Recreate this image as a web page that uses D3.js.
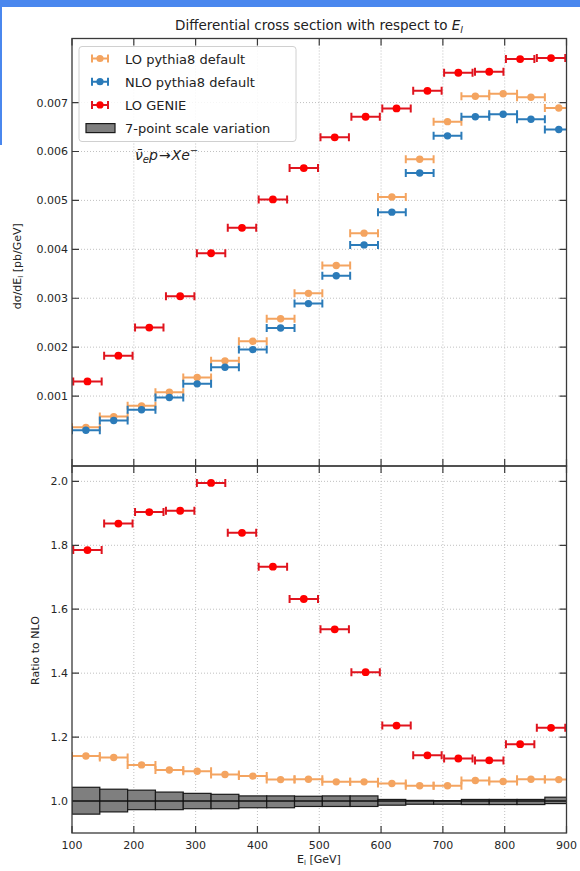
<!DOCTYPE html>
<html>
<head>
<meta charset="utf-8">
<script src="https://cdn.jsdelivr.net/npm/d3@7"></script>
<style>
    html, body { margin: 0; padding: 0; background: #fff; }
    svg { display: block; font-family: "DejaVu Sans", sans-serif; }
    .tick-label { font-size: 11px; fill: #262626; }
    .grid { stroke: #b0b0b0; stroke-width: 0.8; stroke-dasharray: 1, 2; }
    .spine { fill: none; stroke: #3a3a3a; stroke-width: 1.3; }
</style>
</head>
<body>
<svg id="chart" width="580" height="871"></svg>
<script>
// bins of the pythia8 histograms (GeV)
var pythiaEdges = [100, 145, 190, 235, 280, 325, 370, 415, 460, 505, 550, 595, 640, 685, 730, 775, 820, 865, 910];
// GENIE bin centres and x error (GeV)
var genieCenters = [125, 175, 225, 275, 325, 375, 425, 475, 525, 575, 625, 675, 725, 775, 825, 875];
var genieXerr = 23;

// dσ/dE_l [pb/GeV]
var loPythia  = [0.00036, 0.00058, 0.00080, 0.00108, 0.00138, 0.00172, 0.00212, 0.00258, 0.00310, 0.00367, 0.00433, 0.00507, 0.00584, 0.00661, 0.00713, 0.00718, 0.00711, 0.00689];
var nloPythia = [0.00030, 0.00050, 0.00072, 0.00097, 0.00125, 0.00159, 0.00195, 0.00239, 0.00289, 0.00346, 0.00409, 0.00476, 0.00556, 0.00632, 0.00671, 0.00676, 0.00666, 0.00645];
var loGenie   = [0.00130, 0.001825, 0.00240, 0.00304, 0.00392, 0.00444, 0.00502, 0.00566, 0.00629, 0.00671, 0.00688, 0.00724, 0.00761, 0.00763, 0.00789, 0.00791];

// ratios to NLO
var ratioLoPythia = [1.141, 1.136, 1.113, 1.097, 1.093, 1.083, 1.078, 1.067, 1.068, 1.060, 1.060, 1.055, 1.048, 1.048, 1.064, 1.061, 1.068, 1.067];
var ratioGenie    = [1.785, 1.868, 1.904, 1.908, 1.995, 1.839, 1.733, 1.632, 1.537, 1.403, 1.236, 1.143, 1.133, 1.127, 1.178, 1.229];
var scaleLow  = [0.959, 0.966, 0.973, 0.973, 0.976, 0.976, 0.979, 0.979, 0.983, 0.983, 0.983, 0.987, 0.990, 0.990, 0.989, 0.989, 0.989, 0.992];
var scaleHigh = [1.043, 1.037, 1.034, 1.028, 1.024, 1.021, 1.016, 1.016, 1.015, 1.016, 1.016, 1.005, 1.002, 1.001, 1.005, 1.005, 1.005, 1.012];

// ticks
var xTicks      = [100, 200, 300, 400, 500, 600, 700, 800, 900];
var topTicks    = [0.001, 0.002, 0.003, 0.004, 0.005, 0.006, 0.007];
var bottomTicks = [1.0, 1.2, 1.4, 1.6, 1.8, 2.0];

var colors = { lo: '#f4a460', nlo: '#2b7bb9', genie: '#ff0000', genieBar: '#e0141e' };

var layout = {
    left: 72, right: 566.5,
    top: { y0: 38.5, y1: 466 },
    bottom: { y0: 466, y1: 833 },
    tick: 7, cap: 4
};

var svg = d3.select('#chart');

// screenshot frame
svg.append('rect').attr('x', 0).attr('y', 0).attr('width', 580).attr('height', 7).attr('fill', '#4a87ee');
svg.append('rect').attr('x', 0).attr('y', 0).attr('width', 2).attr('height', 145).attr('fill', '#4a87ee');

var x = d3.scaleLinear().domain([100, 900]).range([layout.left, layout.right]);
var yTop = d3.scaleLinear().domain([-0.00043, 0.00831]).range([layout.top.y1, layout.top.y0]);
var yBot = d3.scaleLinear().domain([0.9, 2.048]).range([layout.bottom.y1, layout.bottom.y0]);

svg.append('defs').call(function (defs) {
    defs.append('clipPath').attr('id', 'clip-top').append('rect')
        .attr('x', layout.left).attr('y', layout.top.y0)
        .attr('width', layout.right - layout.left).attr('height', layout.top.y1 - layout.top.y0);
    defs.append('clipPath').attr('id', 'clip-bottom').append('rect')
        .attr('x', layout.left).attr('y', layout.bottom.y0)
        .attr('width', layout.right - layout.left).attr('height', layout.bottom.y1 - layout.bottom.y0);
});

function drawFrame(y, ticks, p, fmt, showX) {
    var g = svg.append('g');

    g.selectAll('.gx').data(xTicks.slice(1, -1)).enter().append('line')
        .attr('class', 'grid')
        .attr('x1', d => x(d)).attr('x2', d => x(d))
        .attr('y1', p.y0).attr('y2', p.y1)
    ;
    g.selectAll('.gy').data(ticks).enter().append('line')
        .attr('class', 'grid')
        .attr('x1', layout.left).attr('x2', layout.right)
        .attr('y1', d => y(d)).attr('y2', d => y(d))
    ;

    // inward ticks on all four sides
    g.selectAll('.tx').data(xTicks).enter().append('path')
        .attr('stroke', '#3a3a3a').attr('stroke-width', 1.2)
        .attr('d', d => `M${x(d)},${p.y1}v${-layout.tick}M${x(d)},${p.y0}v${layout.tick}`)
    ;
    g.selectAll('.ty').data(ticks).enter().append('path')
        .attr('stroke', '#3a3a3a').attr('stroke-width', 1.2)
        .attr('d', d => `M${layout.left},${y(d)}h${layout.tick}M${layout.right},${y(d)}h${-layout.tick}`)
    ;

    g.selectAll('.ly').data(ticks).enter().append('text')
        .attr('class', 'tick-label')
        .attr('text-anchor', 'end')
        .attr('x', layout.left - 4)
        .attr('y', d => y(d) + 4)
        .text(fmt)
    ;

    if (showX) {
        g.selectAll('.lx').data(xTicks).enter().append('text')
            .attr('class', 'tick-label')
            .attr('text-anchor', 'middle')
            .attr('x', d => x(d))
            .attr('y', p.y1 + 16)
            .text(d => d)
        ;
    }
}

function drawSpines(p) {
    svg.append('rect')
        .attr('class', 'spine')
        .attr('x', layout.left).attr('y', p.y0)
        .attr('width', layout.right - layout.left).attr('height', p.y1 - p.y0)
    ;
}

function errorbars(g, points, y, color, barColor, r) {
    var pts = g.selectAll(null).data(points).enter().append('g');
    pts.append('path')
        .attr('fill', 'none')
        .attr('stroke', barColor)
        .attr('stroke-width', 2)
        .attr('d', d => {
            var x0 = x(d.x0), x1 = x(d.x1), yy = y(d.v);
            return `M${x0},${yy}H${x1}M${x0},${yy - layout.cap}v${2 * layout.cap}M${x1},${yy - layout.cap}v${2 * layout.cap}`;
        })
    ;
    pts.append('circle')
        .attr('cx', d => x(d.xc))
        .attr('cy', d => y(d.v))
        .attr('r', r)
        .attr('fill', color)
    ;
}

function pythiaPoints(values) {
    return values.map((v, i) => ({ x0: pythiaEdges[i], x1: pythiaEdges[i + 1], xc: (pythiaEdges[i] + pythiaEdges[i + 1]) / 2, v: v }));
}
function geniePoints(values) {
    return values.map((v, i) => ({ x0: genieCenters[i] - genieXerr, x1: genieCenters[i] + genieXerr, xc: genieCenters[i], v: v }));
}

// ---------- top panel ----------
drawFrame(yTop, topTicks, layout.top, d => d3.format('.3f')(d), false);

var topG = svg.append('g').attr('clip-path', 'url(#clip-top)');
errorbars(topG, pythiaPoints(loPythia), yTop, colors.lo, colors.lo, 3.7);
errorbars(topG, pythiaPoints(nloPythia), yTop, colors.nlo, colors.nlo, 3.7);
errorbars(topG, geniePoints(loGenie), yTop, colors.genie, colors.genieBar, 3.9);

// ---------- bottom panel ----------
drawFrame(yBot, bottomTicks, layout.bottom, d => d3.format('.1f')(d), true);

var botG = svg.append('g').attr('clip-path', 'url(#clip-bottom)');
botG.selectAll('.scale').data(scaleLow).enter().append('rect')
    .attr('x', (d, i) => x(pythiaEdges[i]))
    .attr('width', (d, i) => x(pythiaEdges[i + 1]) - x(pythiaEdges[i]))
    .attr('y', (d, i) => yBot(scaleHigh[i]))
    .attr('height', (d, i) => yBot(d) - yBot(scaleHigh[i]))
    .attr('fill', '#7f7f7f')
    .attr('stroke', '#1a1a1a')
    .attr('stroke-width', 1.2)
;
botG.append('path')
    .attr('stroke', '#111')
    .attr('stroke-width', 1.5)
    .attr('d', `M${x(pythiaEdges[0])},${yBot(1)}H${x(pythiaEdges[pythiaEdges.length - 1])}`)
;
errorbars(botG, pythiaPoints(ratioLoPythia), yBot, colors.lo, colors.lo, 3.7);
errorbars(botG, geniePoints(ratioGenie), yBot, colors.genie, colors.genieBar, 3.9);

drawSpines(layout.top);
drawSpines(layout.bottom);

// ---------- texts ----------
var title = svg.append('text')
    .attr('x', 319).attr('y', 30)
    .attr('text-anchor', 'middle')
    .attr('font-size', 13.5)
    .attr('fill', '#222')
;
title.append('tspan').text('Differential cross section with respect to ');
title.append('tspan').attr('font-style', 'italic').text('E');
title.append('tspan').attr('font-style', 'italic').attr('font-size', 9.5).attr('dy', 3).text('l');

var yLabelTop = svg.append('text')
    .attr('transform', 'translate(21,' + ((layout.top.y0 + layout.top.y1) / 2 + 14) + ') rotate(-90)')
    .attr('text-anchor', 'middle')
    .attr('font-size', 11)
    .attr('fill', '#222')
;
yLabelTop.append('tspan').text('dσ/dE');
yLabelTop.append('tspan').attr('font-size', 7).attr('dy', 2).text('l');
yLabelTop.append('tspan').attr('dy', -2).text(' [pb/GeV]');

svg.append('text')
    .attr('transform', 'translate(39,' + ((layout.bottom.y0 + layout.bottom.y1) / 2 + 1) + ') rotate(-90)')
    .attr('text-anchor', 'middle')
    .attr('font-size', 11)
    .attr('fill', '#222')
    .text('Ratio to NLO')
;

var xLabel = svg.append('text')
    .attr('x', 319).attr('y', 863)
    .attr('text-anchor', 'middle')
    .attr('font-size', 11)
    .attr('fill', '#222')
;
xLabel.append('tspan').text('E');
xLabel.append('tspan').attr('font-size', 7).attr('dy', 2).text('l');
xLabel.append('tspan').attr('dy', -2).text(' [GeV]');

// process annotation
var proc = svg.append('text')
    .attr('x', 135).attr('y', 160)
    .attr('font-size', 14)
    .attr('fill', '#222')
;
proc.append('tspan').attr('font-style', 'italic').text('ν\u0304');
proc.append('tspan').attr('font-style', 'italic').attr('font-size', 10).attr('dy', 3).text('e');
proc.append('tspan').attr('font-style', 'italic').attr('dy', -3).text('p');
proc.append('tspan').attr('dx', 1).text('→');
proc.append('tspan').attr('font-style', 'italic').attr('dx', 1).text('Xe');
proc.append('tspan').attr('font-size', 10).attr('dy', -6).text('−');

// ---------- legend ----------
var legend = svg.append('g');
legend.append('rect')
    .attr('x', 79).attr('y', 46.5)
    .attr('width', 217).attr('height', 95)
    .attr('rx', 3)
    .attr('fill', 'rgba(255,255,255,0.85)')
    .attr('stroke', '#d0d0d0')
;

var legendItems = [
    { label: 'LO pythia8 default', color: colors.lo, bar: colors.lo },
    { label: 'NLO pythia8 default', color: colors.nlo, bar: colors.nlo },
    { label: 'LO GENIE', color: colors.genie, bar: colors.genieBar },
    { label: '7-point scale variation', box: true }
];

legend.selectAll('.item').data(legendItems).enter().append('g')
    .attr('transform', (d, i) => `translate(0, ${58.5 + i * 23.2})`)
    .each(function (d) {
        var _this = d3.select(this);
        if (d.box) {
            _this.append('rect')
                .attr('x', 86).attr('y', -4.5)
                .attr('width', 29).attr('height', 9)
                .attr('fill', '#7f7f7f').attr('stroke', '#1a1a1a').attr('stroke-width', 1.2);
        } else {
            _this.append('path')
                .attr('fill', 'none').attr('stroke', d.bar).attr('stroke-width', 2)
                .attr('d', 'M92,0H108M92,-4v8M108,-4v8');
            _this.append('circle').attr('cx', 100).attr('cy', 0).attr('r', 3.6).attr('fill', d.color);
        }
        _this.append('text')
            .attr('x', 125).attr('y', 5)
            .attr('font-size', 13)
            .attr('fill', '#222')
            .text(d.label);
    })
;
</script>
</body>
</html>
